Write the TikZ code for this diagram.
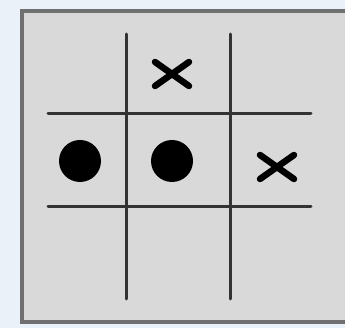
\documentclass[tikz,border=0pt]{standalone}
\usepackage{tikz}
\usepackage{xcolor}
\definecolor{bgblue}{HTML}{EAF1F9}
\definecolor{boardgray}{HTML}{D9D9D9}
\definecolor{framegray}{HTML}{707070}
\definecolor{inkgray}{HTML}{333333}
\begin{document}
\begin{tikzpicture}[x=1pt,y=-1pt,
  gridline/.style={inkgray,line width=3pt,line cap=round},
  crossmark/.style={black,line width=6.5pt,line cap=round},
  dotmark/.style={circle,fill=black,minimum size=42pt,inner sep=0pt}]
\useasboundingbox (0,0) rectangle (345,328);
\fill[bgblue] (0,0) rectangle (345,328);
\fill[boardgray] (22,11) rectangle (350,322);
\draw[framegray,line width=4pt] (22,11) rectangle (350,322);
% grid
\draw[gridline] (126,34) -- (126,299);
\draw[gridline] (230,34) -- (230,299);
\draw[gridline] (48,114) -- (311,114);
\draw[gridline] (48,207) -- (311,207);
% noughts
\node[dotmark] (o1) at (80,161) {};
\node[dotmark] (o2) at (172,161) {};
% crosses
\draw[crossmark] (155,62) -- (189,86);
\draw[crossmark] (155,86) -- (189,62);
\draw[crossmark] (260,155) -- (294,179);
\draw[crossmark] (260,179) -- (294,155);
\end{tikzpicture}
\end{document}
